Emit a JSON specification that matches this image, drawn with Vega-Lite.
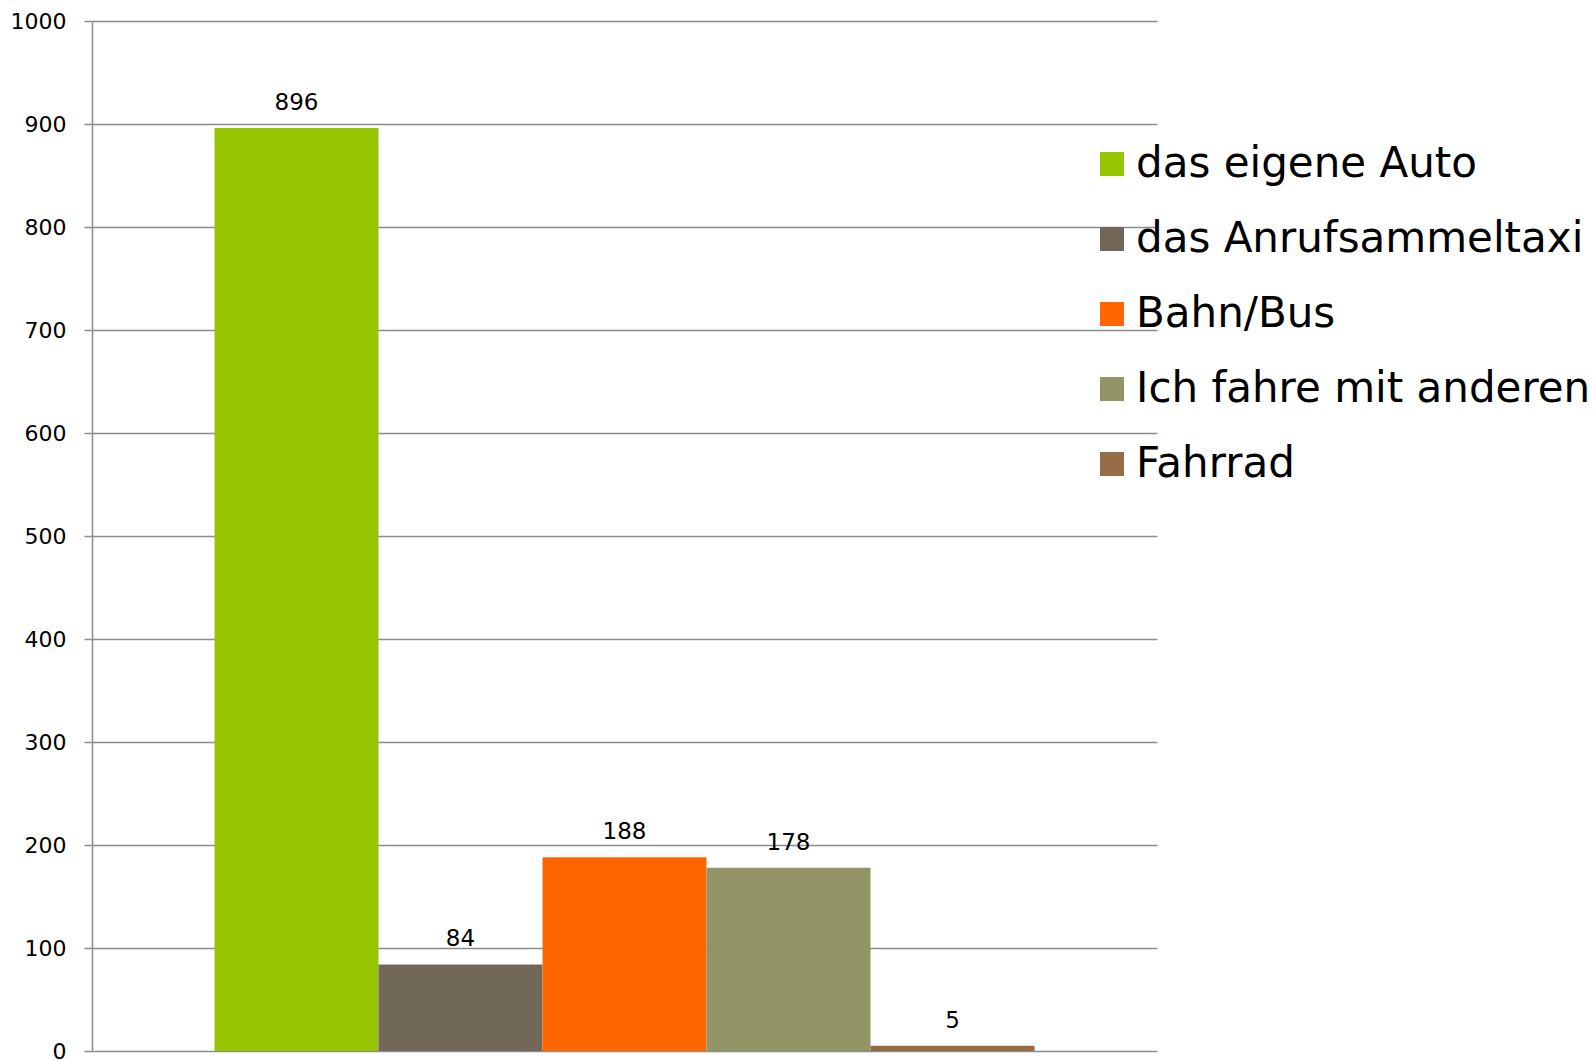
{
  "$schema": "https://vega.github.io/schema/vega-lite/v6.json",
  "autosize": {"type": "none"},
  "width": 1065,
  "height": 1030,
  "padding": {"left": 92, "top": 21, "right": 437, "bottom": 9},
  "background": "white",
  "data": {
    "values": [
      {"Kategorie": "das eigene Auto", "Anzahl": 896},
      {"Kategorie": "das Anrufsammeltaxi", "Anzahl": 84},
      {"Kategorie": "Bahn/Bus", "Anzahl": 188},
      {"Kategorie": "Ich fahre mit anderen", "Anzahl": 178},
      {"Kategorie": "Fahrrad", "Anzahl": 5}
    ]
  },
  "encoding": {
    "x": {
      "field": "Kategorie",
      "type": "nominal",
      "sort": null,
      "axis": null,
      "scale": {"paddingInner": 0, "paddingOuter": 0.747}
    },
    "y": {
      "field": "Anzahl",
      "type": "quantitative",
      "scale": {"domain": [0, 1000], "nice": false},
      "axis": {
        "title": null,
        "format": "d",
        "values": [0, 100, 200, 300, 400, 500, 600, 700, 800, 900, 1000],
        "domainColor": "#8c8c8c",
        "domainWidth": 1.5,
        "tickColor": "#8c8c8c",
        "tickWidth": 1.5,
        "tickSize": 8,
        "gridColor": "#8c8c8c",
        "gridWidth": 1.5,
        "labelFont": "DejaVu Sans",
        "labelFontSize": 22,
        "labelColor": "#000000",
        "labelPadding": 18
      }
    }
  },
  "layer": [
    {
      "mark": {"type": "bar"},
      "encoding": {
        "color": {
          "field": "Kategorie",
          "type": "nominal",
          "sort": null,
          "scale": {
            "domain": ["das eigene Auto", "das Anrufsammeltaxi", "Bahn/Bus", "Ich fahre mit anderen", "Fahrrad"],
            "range": ["#95C600", "#72685A", "#FF6600", "#929465", "#956C45"]
          },
          "legend": {
            "title": null,
            "orient": "none",
            "legendX": 999,
            "legendY": 122,
            "padding": 0,
            "symbolType": "square",
            "symbolSize": 576,
            "symbolStrokeWidth": 0,
            "symbolOpacity": 1,
            "labelFont": "DejaVu Sans",
            "labelFontSize": 42,
            "labelColor": "#000000",
            "labelOffset": 3,
            "labelLimit": 600,
            "rowPadding": 33
          }
        }
      }
    },
    {
      "mark": {"type": "text", "dy": -18, "baseline": "alphabetic", "font": "DejaVu Sans", "fontSize": 23, "color": "#000000"},
      "encoding": {
        "text": {"field": "Anzahl", "type": "quantitative"}
      }
    }
  ],
  "config": {
    "view": {"stroke": null}
  }
}
